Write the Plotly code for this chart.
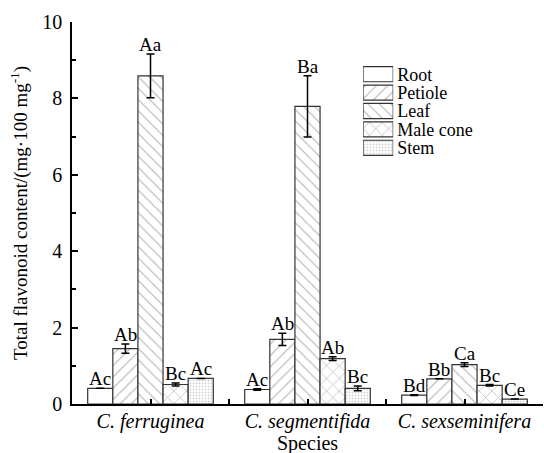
import plotly.graph_objects as go

species = ["C. ferruginea", "C. segmentifida", "C. sexseminifera"]
tissues = ["Root", "Petiole", "Leaf", "Male cone", "Stem"]

root = [0.41, 0.38, 0.23]
petiole = [1.45, 1.69, 0.66]
leaf = [8.59, 7.79, 1.03]
male_cone = [0.51, 1.19, 0.49]
stem = [0.67, 0.41, 0.13]

root_err = [0.0, 0.02, 0.01]
petiole_err = [0.12, 0.16, 0.0]
leaf_err = [0.57, 0.80, 0.05]
male_cone_err = [0.04, 0.05, 0.02]
stem_err = [0.0, 0.06, 0.0]

root_lbl = ["Ac", "Ac", "Bd"]
petiole_lbl = ["Ab", "Ab", "Bb"]
leaf_lbl = ["Aa", "Ba", "Ca"]
male_cone_lbl = ["Bc", "Ab", "Bc"]
stem_lbl = ["Ac", "Bc", "Ce"]

values = [root, petiole, leaf, male_cone, stem]
errors = [root_err, petiole_err, leaf_err, male_cone_err, stem_err]
labels = [root_lbl, petiole_lbl, leaf_lbl, male_cone_lbl, stem_lbl]
patterns = [
    dict(shape="", fgcolor="#666", bgcolor="white"),
    dict(shape="/", fgcolor="#666", bgcolor="white", size=8, solidity=0.14),
    dict(shape="\\", fgcolor="#666", bgcolor="white", size=8, solidity=0.14),
    dict(shape="x", fgcolor="#666", bgcolor="white", size=9, solidity=0.14),
    dict(shape=".", fgcolor="#aaa", bgcolor="white", size=3, solidity=0.3),
]

FONT = "Liberation Serif"
xpos = list(range(len(species)))
n = len(tissues)
bw = 0.8 / n

fig = go.Figure()
annotations = []
for i, name in enumerate(tissues):
    off = (i - n / 2) * bw
    fig.add_trace(go.Bar(
        x=xpos, y=values[i], name=name, width=bw, offset=off,
        marker=dict(color="white", line=dict(color="#333", width=1.2),
                    pattern=patterns[i]),
        error_y=dict(type="data", array=errors[i], visible=True,
                     color="black", thickness=1.5, width=4),
        showlegend=False,
    ))
    for j in range(len(species)):
        annotations.append(dict(
            x=xpos[j] + off + bw / 2, y=values[i][j] + errors[i][j],
            xref="x", yref="y", text=labels[i][j], showarrow=False,
            yanchor="bottom", yshift=-3,
            font=dict(family=FONT, size=19, color="black"),
        ))
    # legend key swatch, drawn in a small inset axis
    fig.add_trace(go.Bar(
        x=[1], y=[name], orientation="h", width=0.82, name=name,
        xaxis="x2", yaxis="y2", showlegend=False, hoverinfo="skip",
        marker=dict(color="white", line=dict(color="#333", width=1.2),
                    pattern=patterns[i]),
    ))

annotations.append(dict(
    x=0.5, y=0, xref="paper", yref="paper", text="Species", showarrow=False,
    yanchor="top", yshift=-26, font=dict(family=FONT, size=20, color="black"),
))

fig.update_layout(
    width=544, height=453,
    margin=dict(l=72, r=1, t=22, b=49),
    plot_bgcolor="white", paper_bgcolor="white",
    font=dict(family=FONT, size=19, color="black"),
    showlegend=False,
    annotations=annotations,
    bargap=0.2,
    xaxis=dict(
        range=[-0.5, len(species) - 0.5],
        tickmode="array", tickvals=xpos, ticktext=["<i>" + s + "</i>" for s in species],
        ticks="inside", ticklen=5, tickwidth=1.5, tickcolor="black",
        minor=dict(tick0=0.5, dtick=1, ticks="inside", ticklen=5, tickwidth=1.5,
                   tickcolor="black"),
        showline=True, linecolor="black", linewidth=1.5, showgrid=False, zeroline=False,
        tickfont=dict(family=FONT, size=20), automargin=False, ticklabelstandoff=-2,
    ),
    yaxis=dict(
        range=[0, 10], dtick=2, tick0=0,
        ticks="inside", ticklen=6, tickwidth=1.5, tickcolor="black",
        minor=dict(dtick=1, ticks="inside", ticklen=4, tickwidth=1.5, tickcolor="black"),
        showline=True, linecolor="black", linewidth=1.5, showgrid=False, zeroline=False,
        tickfont=dict(family=FONT, size=20), automargin=False, ticklabelstandoff=4,
        title=dict(text="Total flavonoid content/(mg·100 mg<sup>-1</sup>)",
                   font=dict(family=FONT, size=19), standoff=10),
    ),
    xaxis2=dict(domain=[0.618, 0.682], range=[0, 1], anchor="y2", visible=False,
                fixedrange=True),
    yaxis2=dict(domain=[0.6466, 0.8874], anchor="x2", side="right",
                categoryorder="array", categoryarray=tissues, autorange="reversed",
                tickmode="array", tickvals=tissues,
                showline=False, showgrid=False, zeroline=False, ticks="",
                tickfont=dict(family=FONT, size=18, color="black"),
                ticklabelstandoff=3, automargin=False, fixedrange=True),
)

fig.write_html("out.html", config={"displayModeBar": False},
               post_script="document.body.style.margin='0';document.body.style.overflow='hidden';")
